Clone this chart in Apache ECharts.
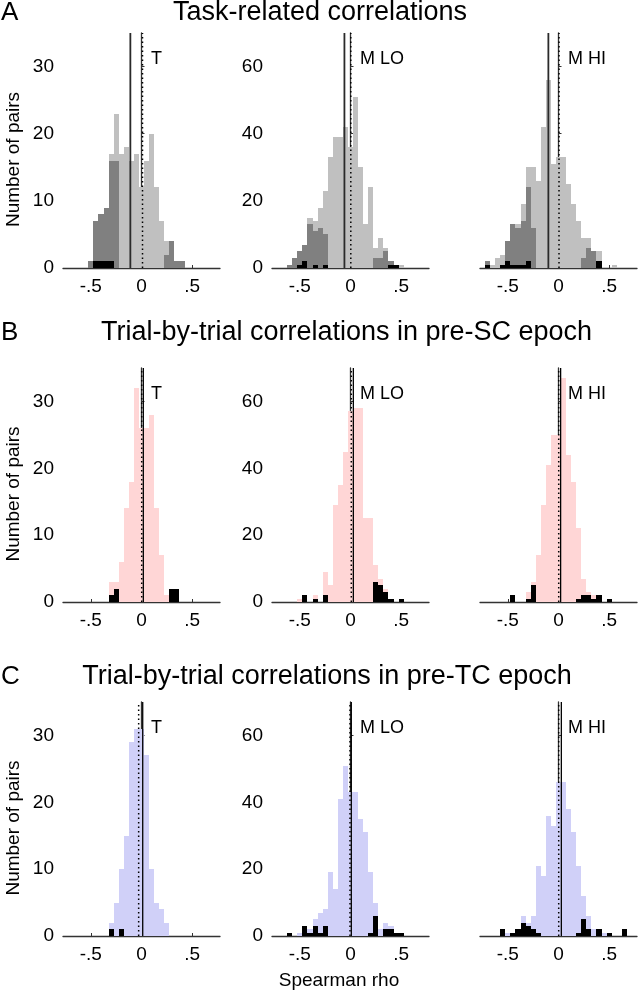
<!DOCTYPE html>
<html>
<head>
<meta charset="utf-8">
<script src="https://cdn.jsdelivr.net/npm/echarts@6/dist/echarts.min.js"></script>
<style>
html,body{margin:0;padding:0;background:#fff;}
#chart{width:639px;height:994px;}
</style>
</head>
<body>
<div id="chart"></div>
<script>
// Bin centres (Spearman rho), bin width 0.05
const bins = [-0.75,-0.7,-0.65,-0.6,-0.55,-0.5,-0.45,-0.4,-0.35,-0.3,-0.25,-0.2,-0.15,-0.1,-0.05,0,
  0.05,0.1,0.15,0.2,0.25,0.3,0.35,0.4,0.45,0.5,0.55,0.6,0.65,0.7,0.75];

// A: task-related correlations (all pairs / dark subset / black subset)
const aT_all   = [0,0,0,0,0,1,7,8,9,17,23,17,18,16,17,12,16,20,12,7,4,4,1,1,0,0,0,0,0,0,0];
const aT_sig   = [0,0,0,0,0,1,7,8,9,16,16,0,0,0,0,0,0,0,0,0,2,4,1,1,0,0,0,0,0,0,0];
const aT_black = [0,0,0,0,0,0,1,1,1,1,0,0,0,0,0,0,0,0,0,0,0,0,0,0,0,0,0,0,0,0,0];
const aLO_all   = [0,0,0,1,3,5,7,15,14,18,23,33,39,39,42,36,51,30,13,24,6,9,6,2,1,1,0,0,0,0,0];
const aLO_sig   = [0,0,0,1,3,5,7,13,11,12,10,0,0,0,0,0,0,0,0,0,3,3,5,2,1,0,0,0,0,0,0];
const aLO_black = [0,0,0,0,0,1,2,0,1,0,1,0,0,0,0,0,0,0,0,0,0,0,0,1,1,0,0,0,0,0,0];
const aHI_all   = [0,2,1,3,4,8,13,13,19,30,30,26,42,56,31,33,33,25,19,14,9,9,5,5,0,0,1,0,0,0,0];
const aHI_sig   = [0,2,0,0,0,8,13,12,14,24,12,0,0,0,0,0,0,0,0,0,3,6,5,2,0,0,0,0,0,0,0];
const aHI_black = [0,1,0,0,1,2,1,1,1,2,0,0,0,0,0,0,0,0,0,0,0,0,0,2,0,0,0,0,0,0,0];

// B: trial-by-trial, pre-SC epoch
const bT_all    = [0,0,0,0,0,0,0,0,0,3,3,6,14,18,32,26,26,28,14,7,1,2,2,0,0,0,0,0,0,0,0];
const bT_black  = [0,0,0,0,0,0,0,0,0,1,2,0,0,0,0,0,0,0,0,0,0,2,2,0,0,0,0,0,0,0,0];
const bLO_all   = [0,0,0,0,0,1,2,0,2,0,9,5,29,35,45,57,58,58,25,25,11,7,4,1,0,1,0,0,0,0,0];
const bLO_black = [0,0,0,0,0,0,2,0,1,0,2,0,0,0,0,0,0,0,0,0,6,5,3,1,0,1,0,0,0,0,0];
const bHI_all   = [0,0,0,0,0,0,2,0,0,3,6,14,29,41,50,50,67,44,36,22,7,3,2,2,0,1,0,0,0,0,0];
const bHI_black = [0,0,0,0,0,0,2,0,0,1,5,0,0,0,0,0,0,0,0,1,2,2,1,2,0,1,0,0,0,0,0];

// C: trial-by-trial, pre-TC epoch
const cT_all    = [0,0,0,0,0,0,0,0,0,2,5,10,15,29,31,31,27,10,5,4,2,0,0,0,0,0,0,0,0,0,0];
const cT_black  = [0,0,0,0,0,0,0,0,0,1,0,1,0,0,0,0,0,0,0,0,0,0,0,0,0,0,0,0,0,0,0];
const cLO_all   = [0,0,0,1,0,1,3,2,5,7,8,19,14,41,51,43,43,35,31,19,10,2,4,3,1,1,0,0,0,0,0];
const cLO_black = [0,0,0,1,0,0,3,1,3,1,3,0,0,0,0,0,0,0,0,1,6,0,2,2,1,1,0,0,0,0,0];
const cHI_all   = [0,0,0,0,2,1,1,2,6,4,6,21,18,36,33,46,46,38,31,21,12,6,2,2,1,1,0,0,2,0,0];
const cHI_black = [0,0,0,0,2,0,1,2,4,3,2,1,0,0,0,0,0,0,0,1,5,2,0,2,0,1,0,0,2,0,0];

// Vertical reference lines (solid and dotted), per panel A-T, A-LO, A-HI, B..., C...
const solidLineX  = [-0.11, -0.06, -0.10, 0.018, 0.028, 0.021, 0.012, 0.008, 0.028];
const dottedLineX = [0.01, 0.003, 0.005, 0.002, 0.008, 0.002, -0.028, -0.005, 0.002];

const panelLabels = ['T','M LO','M HI','T','M LO','M HI','T','M LO','M HI'];
const xTickValues = [-0.5, 0, 0.5];
const xTickLabels = ['-.5', '0', '.5'];
const yTicksSmall = [0, 10, 20, 30];
const yTicksLarge = [0, 20, 40, 60];
const yMaxSmall = 35, yMaxLarge = 70;

const titles = ['Task-related correlations',
  'Trial-by-trial correlations in pre-SC epoch',
  'Trial-by-trial correlations in pre-TC epoch'];
const rowLetters = ['A','B','C'];

const LIGHT = '#c0c0c0', DARK = '#808080', BLACK = '#000000', PINK = '#ffd6d6', BLUE = '#d0d0f8';
const FONT = '"Liberation Sans", Arial, Helvetica, sans-serif';

const layers = [
  [[aT_all, LIGHT],[aT_sig, DARK],[aT_black, BLACK]],
  [[aLO_all, LIGHT],[aLO_sig, DARK],[aLO_black, BLACK]],
  [[aHI_all, LIGHT],[aHI_sig, DARK],[aHI_black, BLACK]],
  [[bT_all, PINK],[bT_black, BLACK]],
  [[bLO_all, PINK],[bLO_black, BLACK]],
  [[bHI_all, PINK],[bHI_black, BLACK]],
  [[cT_all, BLUE],[cT_black, BLACK]],
  [[cLO_all, BLUE],[cLO_black, BLACK]],
  [[cHI_all, BLUE],[cHI_black, BLACK]]
];

const colLeft = [63, 272, 480];
const colW = 157;
const rowTop = [33, 368, 702];
const rowH = [235, 234, 234];
const HALF = 0.025;

function renderBar(params, api) {
  const x = api.value(0), y = api.value(1);
  const p0 = api.coord([x - HALF, y]);
  const p1 = api.coord([x + HALF, 0]);
  const x0 = Math.round(p0[0]), x1 = Math.round(p1[0]);
  const y0 = Math.round(p0[1]), y1 = Math.round(p1[1]);
  return {type: 'rect', shape: {x: x0, y: y0, width: x1 - x0, height: y1 - y0},
    style: {fill: api.visual('color')}};
}

const grid = [], xAxis = [], yAxis = [], series = [], graphic = [];
for (let i = 0; i < 9; i++) {
  const row = Math.floor(i / 3), col = i % 3;
  const ymax = col === 0 ? yMaxSmall : yMaxLarge;
  const yt = col === 0 ? yTicksSmall : yTicksLarge;
  grid.push({left: colLeft[col], top: rowTop[row], width: colW, height: rowH[row]});
  xAxis.push({
    type: 'value', gridIndex: i, min: -0.775, max: 0.775,
    axisLine: {onZero: false, lineStyle: {color: '#333', width: 1.3}},
    axisTick: {inside: true, length: 3, customValues: xTickValues, lineStyle: {color: '#333'}},
    axisLabel: {customValues: xTickValues, margin: 9, fontSize: 19, fontFamily: FONT, color: '#000',
      formatter: v => { const k = xTickValues.findIndex(t => Math.abs(t - v) < 1e-6); return k >= 0 ? xTickLabels[k] : ''; }},
    splitLine: {show: false}
  });
  yAxis.push({
    type: 'value', gridIndex: i, min: 0, max: ymax,
    axisLine: {show: true, lineStyle: {color: '#333', width: 1.3}},
    axisTick: {show: true, inside: true, length: 3, customValues: yt, lineStyle: {color: '#333'}},
    axisLabel: {show: col !== 2, customValues: yt, margin: 9, fontSize: 19, fontFamily: FONT, color: '#000'},
    splitLine: {show: false}
  });
  layers[i].forEach(([counts, color], li) => {
    series.push({
      type: 'custom', xAxisIndex: i, yAxisIndex: i, renderItem: renderBar, silent: true,
      itemStyle: {color: color}, z: 2 + li, animation: false,
      data: bins.map((b, k) => [b, counts[k]]).filter(d => d[1] > 0)
    });
  });
  series.push({type: 'line', xAxisIndex: i, yAxisIndex: i, symbol: 'none', silent: true, z: 10, animation: false,
    data: [[solidLineX[i], 0], [solidLineX[i], ymax]],
    lineStyle: {color: row === 0 ? '#2a2a2a' : '#000', width: row === 0 ? 1.8 : 1.3}});
  series.push({type: 'line', xAxisIndex: i, yAxisIndex: i, symbol: 'none', silent: true, z: 11, animation: false,
    data: [[dottedLineX[i], 0], [dottedLineX[i], ymax]],
    lineStyle: {color: '#000', width: 1.5, type: [1.5, 3]}});
  graphic.push({type: 'text', x: colLeft[col] + 88, y: rowTop[row] + 17, silent: true,
    style: {text: panelLabels[i], font: '18px ' + FONT, fill: '#000', textAlign: 'left', textVerticalAlign: 'top', align: 'left', verticalAlign: 'top'}});
}

const titleX = [320, 346.5, 327];
const titleY = [13, 333, 677];
const letterY = [13, 333, 677];
for (let r = 0; r < 3; r++) {
  graphic.push({type: 'text', x: titleX[r], y: titleY[r], silent: true,
    style: {text: titles[r], font: '27px ' + FONT, fill: '#000', textAlign: 'center', textVerticalAlign: 'middle', align: 'center', verticalAlign: 'middle'}});
  graphic.push({type: 'text', x: 1, y: letterY[r], silent: true,
    style: {text: rowLetters[r], font: '26px ' + FONT, fill: '#000', textAlign: 'left', textVerticalAlign: 'middle', align: 'left', verticalAlign: 'middle'}});
  graphic.push({type: 'text', x: 14, y: rowTop[r] + rowH[r] / 2 + 9, rotation: Math.PI / 2, silent: true,
    style: {text: 'Number of pairs', font: '19px ' + FONT, fill: '#000', textAlign: 'center', textVerticalAlign: 'middle', align: 'center', verticalAlign: 'middle'}});
}
graphic.push({type: 'text', x: 339, y: 981, silent: true,
  style: {text: 'Spearman rho', font: '19px ' + FONT, fill: '#000', textAlign: 'center', textVerticalAlign: 'middle', align: 'center', verticalAlign: 'middle'}});

const chart = echarts.init(document.getElementById('chart'), null, {renderer: 'canvas'});
chart.setOption({animation: false, backgroundColor: '#fff', grid, xAxis, yAxis, series, graphic});
</script>
</body>
</html>
